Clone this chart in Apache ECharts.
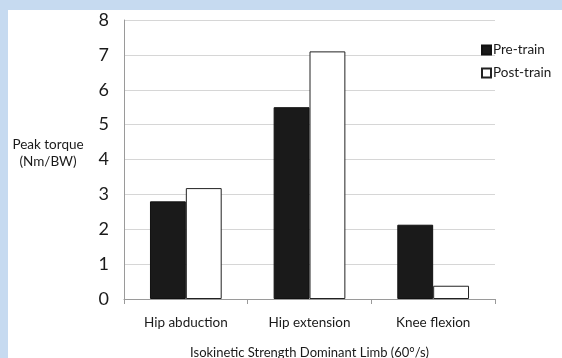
<!DOCTYPE html>
<html>
<head>
<meta charset="utf-8">
<script src="https://cdn.jsdelivr.net/npm/echarts@6/dist/echarts.min.js"></script>
<style>
  html, body { margin: 0; padding: 0; background: #c6daf0; }
  #frame { position: absolute; left: 8px; top: 10px; width: 554px; height: 348px; background: #fff; }
  #chart { position: absolute; left: 0; top: 0; width: 562px; height: 358px; }
</style>
</head>
<body>
<div id="frame"></div>
<div id="chart"></div>
<script>
const categories = ['Hip abduction', 'Hip extension', 'Knee flexion'];
const preTrain = [2.8, 5.5, 2.13];
const postTrain = [3.18, 7.1, 0.38];
const seriesNames = ['Pre-train', 'Post-train'];

const font = 'Lato, "Open Sans", sans-serif';
const chart = echarts.init(document.getElementById('chart'));

chart.setOption({
  animation: false,
  textStyle: { fontFamily: font, color: '#1a1a1a' },
  grid: { left: 124, right: 67, top: 20, bottom: 59, outerBoundsMode: 'none' },
  legend: {
    orient: 'vertical',
    left: 476,
    top: 38,
    itemWidth: 9,
    itemHeight: 9,
    itemGap: 9,
    icon: 'rect',
    textStyle: { fontFamily: font, fontSize: 13.5, color: '#1a1a1a', padding: [0, 0, 0, -3] },
    data: seriesNames
  },
  graphic: [{
    type: 'text',
    x: 48,
    y: 136,
    style: {
      text: 'Peak torque\n(Nm/BW)',
      font: '13.5px ' + font,
      fill: '#1a1a1a',
      align: 'center',
      lineHeight: 17
    }
  }],
  xAxis: {
    type: 'category',
    data: categories,
    name: 'Isokinetic Strength Dominant Limb (60°/s)',
    nameLocation: 'middle',
    nameGap: 47,
    nameTextStyle: { fontFamily: font, fontSize: 13, color: '#1a1a1a' },
    axisLine: { lineStyle: { color: '#9a9a9a' } },
    axisTick: { show: true, length: 5, lineStyle: { color: '#9a9a9a' } },
    axisLabel: { fontFamily: font, fontSize: 13.5, color: '#1a1a1a', margin: 17 }
  },
  yAxis: {
    type: 'value',
    min: 0,
    max: 8,
    interval: 1,
    axisLine: { show: true, lineStyle: { color: '#9a9a9a' } },
    axisTick: { show: false },
    axisLabel: { fontFamily: font, fontSize: 18, color: '#1a1a1a', margin: 15 },
    splitLine: { lineStyle: { color: '#d6d6d6' } }
  },
  series: [
    {
      name: seriesNames[0],
      type: 'bar',
      data: preTrain,
      barWidth: '29%',
      barGap: '0%',
      itemStyle: { color: '#1a1a1a', borderColor: '#111', borderWidth: 1 }
    },
    {
      name: seriesNames[1],
      type: 'bar',
      data: postTrain,
      barWidth: '29%',
      barGap: '0%',
      itemStyle: { color: '#ffffff', borderColor: '#222', borderWidth: 1 }
    }
  ]
});
</script>
</body>
</html>
